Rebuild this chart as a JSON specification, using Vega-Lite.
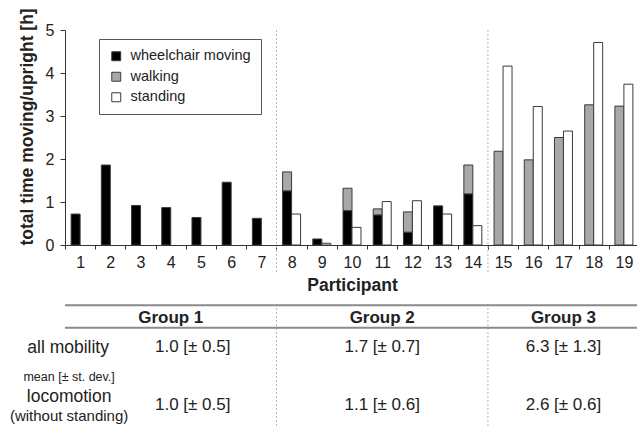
{
  "$schema": "https://vega.github.io/schema/vega-lite/v6.json",
  "padding": {"left": 9, "top": 7, "right": 0, "bottom": 0},
  "autosize": {"type": "pad"},
  "bounds": "flush",
  "spacing": 59,
  "config": {
    "font": "Liberation Sans",
    "view": {"stroke": null},
    "axis": {"grid": false, "domainColor": "#333", "tickColor": "#333", "labelColor": "#222", "titleColor": "#222", "labelFont": "Liberation Sans", "titleFont": "Liberation Sans"},
    "legend": {"labelFont": "Liberation Sans"}
  },
  "datasets": {
    "bars": [
      {"participant": 1, "activity": "wheelchair moving", "hours": 0.72},
      {"participant": 2, "activity": "wheelchair moving", "hours": 1.86},
      {"participant": 3, "activity": "wheelchair moving", "hours": 0.92},
      {"participant": 4, "activity": "wheelchair moving", "hours": 0.87},
      {"participant": 5, "activity": "wheelchair moving", "hours": 0.64},
      {"participant": 6, "activity": "wheelchair moving", "hours": 1.46},
      {"participant": 7, "activity": "wheelchair moving", "hours": 0.62},
      {"participant": 8, "activity": "wheelchair moving", "hours": 1.26},
      {"participant": 8, "activity": "walking", "hours": 0.44},
      {"participant": 8, "activity": "standing", "hours": 0.72},
      {"participant": 9, "activity": "wheelchair moving", "hours": 0.14},
      {"participant": 9, "activity": "standing", "hours": 0.04},
      {"participant": 10, "activity": "wheelchair moving", "hours": 0.80},
      {"participant": 10, "activity": "walking", "hours": 0.52},
      {"participant": 10, "activity": "standing", "hours": 0.41},
      {"participant": 11, "activity": "wheelchair moving", "hours": 0.70},
      {"participant": 11, "activity": "walking", "hours": 0.14},
      {"participant": 11, "activity": "standing", "hours": 1.01},
      {"participant": 12, "activity": "wheelchair moving", "hours": 0.30},
      {"participant": 12, "activity": "walking", "hours": 0.47},
      {"participant": 12, "activity": "standing", "hours": 1.03},
      {"participant": 13, "activity": "wheelchair moving", "hours": 0.91},
      {"participant": 13, "activity": "standing", "hours": 0.72},
      {"participant": 14, "activity": "wheelchair moving", "hours": 1.19},
      {"participant": 14, "activity": "walking", "hours": 0.67},
      {"participant": 14, "activity": "standing", "hours": 0.45},
      {"participant": 15, "activity": "walking", "hours": 2.18},
      {"participant": 15, "activity": "standing", "hours": 4.16},
      {"participant": 16, "activity": "walking", "hours": 1.98},
      {"participant": 16, "activity": "standing", "hours": 3.22},
      {"participant": 17, "activity": "walking", "hours": 2.50},
      {"participant": 17, "activity": "standing", "hours": 2.65},
      {"participant": 18, "activity": "walking", "hours": 3.26},
      {"participant": 18, "activity": "standing", "hours": 4.71},
      {"participant": 19, "activity": "walking", "hours": 3.23},
      {"participant": 19, "activity": "standing", "hours": 3.74}
    ],
    "seps": [{"boundary": 8}, {"boundary": 15}],
    "hlines": [{"row": "header"}],
    "table": [
      {"row": "header", "group": "Group 1", "text": "Group 1"},
      {"row": "header", "group": "Group 2", "text": "Group 2"},
      {"row": "header", "group": "Group 3", "text": "Group 3"},
      {"row": "all mobility", "group": "Group 1", "text": "1.0 [± 0.5]"},
      {"row": "all mobility", "group": "Group 2", "text": "1.7 [± 0.7]"},
      {"row": "all mobility", "group": "Group 3", "text": "6.3 [± 1.3]"},
      {"row": "locomotion", "group": "Group 1", "text": "1.0 [± 0.5]"},
      {"row": "locomotion", "group": "Group 2", "text": "1.1 [± 0.6]"},
      {"row": "locomotion", "group": "Group 3", "text": "2.6 [± 0.6]"},
      {"row": "all mobility", "group": "label", "text": "all mobility"},
      {"row": "mean", "group": "label", "text": "mean [± st. dev.]"},
      {"row": "locomotion", "group": "label", "text": "locomotion"},
      {"row": "locomotion", "group": "label", "text": "(without standing)"}
    ]
  },
  "resolve": {"legend": {"color": "independent"}, "scale": {"x": "independent", "y": "independent"}},
  "vconcat": [
    {
      "width": 574,
      "height": 215,
      "layer": [
        {
          "data": {"name": "seps"},
          "mark": {"type": "rule", "color": "#b5b5b5", "strokeDash": [2, 2], "strokeWidth": 1},
          "encoding": {
            "x": {"field": "boundary", "type": "ordinal", "bandPosition": 0,
                  "scale": {"type": "band", "domain": [1,2,3,4,5,6,7,8,9,10,11,12,13,14,15,16,17,18,19], "paddingInner": 0, "paddingOuter": 0},
                  "axis": {"title": "Participant", "labelAngle": 0, "tickBand": "extent", "tickSize": 4, "labelFontSize": 16, "labelPadding": 5, "titleFontSize": 17.5, "titleFontWeight": "bold", "titlePadding": 6}},
            "y": {"datum": 5, "type": "quantitative",
                  "scale": {"domain": [0, 5], "nice": false},
                  "axis": {"title": "total time moving/upright [h]", "values": [0,1,2,3,4,5], "tickSize": 5, "labelFontSize": 16, "labelPadding": 6, "titleFontSize": 17.5, "titleFontWeight": "bold", "titleAnchor": "start", "titlePadding": 9}},
            "y2": {"datum": -0.64}
          }
        },
        {
          "data": {"name": "bars"},
          "transform": [
            {"filter": "datum.activity !== 'standing'"},
            {"calculate": "'locomotion'", "as": "bar"},
            {"calculate": "datum.activity === 'wheelchair moving' ? 0 : 1", "as": "stackrank"}
          ],
          "mark": {"type": "bar", "stroke": "#3a3a3a", "strokeWidth": 1},
          "encoding": {
            "x": {"field": "participant", "type": "ordinal"},
            "xOffset": {"field": "bar", "type": "nominal", "scale": {"domain": ["locomotion", "upright"], "paddingInner": 0, "paddingOuter": 0.68}},
            "y": {"field": "hours", "type": "quantitative", "stack": "zero"},
            "order": {"field": "stackrank", "type": "quantitative"},
            "color": {"field": "activity", "type": "nominal",
                      "scale": {"domain": ["wheelchair moving", "walking", "standing"], "range": ["#000000", "#a8a8a8", "#ffffff"]},
                      "legend": {"title": null, "orient": "none", "legendX": 34, "legendY": 9, "symbolType": "square", "symbolSize": 80, "symbolStrokeColor": "#333", "symbolStrokeWidth": 1, "labelFontSize": 14.5, "labelColor": "#222", "strokeColor": "#555", "fillColor": "#ffffff", "padding": 10, "rowPadding": 5.5, "labelOffset": 7}}
          }
        },
        {
          "data": {"name": "bars"},
          "transform": [
            {"filter": "datum.activity === 'standing'"},
            {"calculate": "'upright'", "as": "bar"}
          ],
          "mark": {"type": "bar", "stroke": "#3a3a3a", "strokeWidth": 1},
          "encoding": {
            "x": {"field": "participant", "type": "ordinal"},
            "xOffset": {"field": "bar", "type": "nominal"},
            "y": {"field": "hours", "type": "quantitative"},
            "color": {"field": "activity", "type": "nominal"}
          }
        }
      ]
    },
    {
      "width": 574,
      "height": 125,
      "layer": [
        {
          "data": {"name": "seps"},
          "mark": {"type": "rule", "color": "#b5b5b5", "strokeDash": [2, 2], "strokeWidth": 1},
          "encoding": {
            "x": {"field": "boundary", "type": "ordinal", "bandPosition": 0,
                  "scale": {"type": "band", "domain": [1,2,3,4,5,6,7,8,9,10,11,12,13,14,15,16,17,18,19], "paddingInner": 0, "paddingOuter": 0},
                  "axis": null}
          }
        },
        {
          "data": {"name": "hlines"},
          "mark": {"type": "rule", "color": "#8a8a8a", "strokeWidth": 2},
          "encoding": {
            "y": {"field": "row", "type": "nominal", "bandPosition": 0,
                  "scale": {"type": "band", "domain": ["header", "all mobility", "mean", "locomotion"], "paddingInner": 0.218, "paddingOuter": 0.2716, "align": 0.08},
                  "axis": null}
          }
        },
        {
          "data": {"name": "hlines"},
          "mark": {"type": "rule", "color": "#8a8a8a", "strokeWidth": 2},
          "encoding": {
            "y": {"field": "row", "type": "nominal", "bandPosition": 1}
          }
        },
        {
          "data": {"name": "table"},
          "transform": [
            {"filter": "datum.row === 'header'"},
            {"calculate": "datum.group === 'Group 1' ? 4 : datum.group === 'Group 2' ? 11 : 17", "as": "mid"}
          ],
          "mark": {"type": "text", "fontSize": 17, "fontWeight": "bold", "color": "#222", "baseline": "middle", "dy": 1},
          "encoding": {
            "x": {"field": "mid", "type": "ordinal"},
            "y": {"field": "row", "type": "nominal"},
            "text": {"field": "text"}
          }
        },
        {
          "data": {"name": "table"},
          "transform": [
            {"filter": "datum.row !== 'header' && (datum.group === 'Group 2' || datum.group === 'Group 3')"},
            {"calculate": "datum.group === 'Group 2' ? 11 : 17", "as": "mid"}
          ],
          "mark": {"type": "text", "fontSize": 17, "color": "#222", "baseline": "middle", "dy": 2},
          "encoding": {
            "x": {"field": "mid", "type": "ordinal"},
            "y": {"field": "row", "type": "nominal"},
            "text": {"field": "text"}
          }
        },
        {
          "data": {"name": "table"},
          "transform": [
            {"filter": "datum.row !== 'header' && datum.group === 'Group 1'"},
            {"calculate": "4", "as": "mid"}
          ],
          "mark": {"type": "text", "fontSize": 17, "color": "#222", "baseline": "middle", "dy": 2, "dx": 22},
          "encoding": {
            "x": {"field": "mid", "type": "ordinal"},
            "y": {"field": "row", "type": "nominal"},
            "text": {"field": "text"}
          }
        },
        {
          "data": {"name": "table"},
          "transform": [
            {"filter": "datum.text === 'all mobility'"},
            {"calculate": "1", "as": "mid"}
          ],
          "mark": {"type": "text", "fontSize": 17.5, "color": "#222", "baseline": "middle", "dy": 3, "dx": -12},
          "encoding": {
            "x": {"field": "mid", "type": "ordinal"},
            "y": {"field": "row", "type": "nominal"},
            "text": {"field": "text"}
          }
        },
        {
          "data": {"name": "table"},
          "transform": [
            {"filter": "datum.text === 'mean [± st. dev.]'"},
            {"calculate": "1", "as": "mid"}
          ],
          "mark": {"type": "text", "fontSize": 12.5, "color": "#222", "baseline": "middle", "dy": 3, "dx": -11},
          "encoding": {
            "x": {"field": "mid", "type": "ordinal"},
            "y": {"field": "row", "type": "nominal"},
            "text": {"field": "text"}
          }
        },
        {
          "data": {"name": "table"},
          "transform": [
            {"filter": "datum.text === 'locomotion'"},
            {"calculate": "1", "as": "mid"}
          ],
          "mark": {"type": "text", "fontSize": 17.5, "color": "#222", "baseline": "middle", "dy": -6, "dx": -11},
          "encoding": {
            "x": {"field": "mid", "type": "ordinal"},
            "y": {"field": "row", "type": "nominal"},
            "text": {"field": "text"}
          }
        },
        {
          "data": {"name": "table"},
          "transform": [
            {"filter": "datum.text === '(without standing)'"},
            {"calculate": "1", "as": "mid"}
          ],
          "mark": {"type": "text", "fontSize": 15, "color": "#222", "baseline": "middle", "dy": 13, "dx": -11},
          "encoding": {
            "x": {"field": "mid", "type": "ordinal"},
            "y": {"field": "row", "type": "nominal"},
            "text": {"field": "text"}
          }
        }
      ]
    }
  ]
}
